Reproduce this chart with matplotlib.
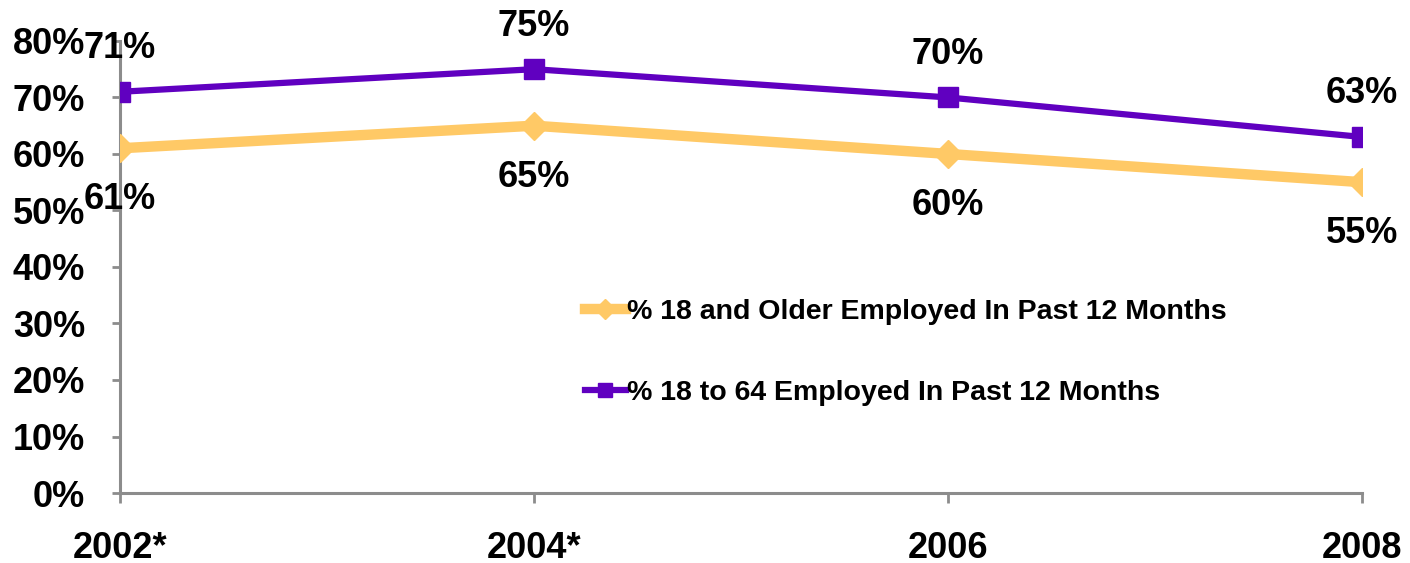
import numpy as np
import matplotlib
matplotlib.use('Agg')
import matplotlib.pyplot as plt
from matplotlib.ticker import PercentFormatter

plt.rcParams['font.family'] = ['Liberation Sans', 'DejaVu Sans']

years = ['2002*', '2004*', '2006', '2008']
older = [61, 65, 60, 55]
working_age = [71, 75, 70, 63]
older_label = '% 18 and Older Employed In Past 12 Months'
working_label = '% 18 to 64 Employed In Past 12 Months'

orange = '#FFC966'
purple = '#6000C0'
axis_gray = '#8C8C8C'

fig = plt.figure(figsize=(14.1, 5.63), dpi=100)
ax = fig.add_axes([0.0851, 0.1243, 0.881, 0.803])

x = np.arange(len(years))
ax.plot(x, older, color=orange, lw=7.5, marker='D', ms=14, mec=orange,
        label=older_label, zorder=3)
ax.plot(x, working_age, color=purple, lw=4.5, marker='s', ms=15, mec=purple,
        label=working_label, zorder=4)

for xi, v in zip(x, older):
    ax.annotate('%d%%' % v, (xi, v), xytext=(0, -37), textcoords='offset points',
                ha='center', va='center', fontsize=26, fontweight='bold')
for xi, v in zip(x, working_age):
    ax.annotate('%d%%' % v, (xi, v), xytext=(0, 31), textcoords='offset points',
                ha='center', va='center', fontsize=26, fontweight='bold')

ax.set_xlim(0, 3)
ax.set_ylim(0, 80)
ax.set_yticks(np.arange(0, 81, 10))
ax.yaxis.set_major_formatter(PercentFormatter(decimals=0))
ax.set_xticks(x)
ax.set_xticklabels(years)

for side in ['top', 'right']:
    ax.spines[side].set_visible(False)
for side in ['left', 'bottom']:
    ax.spines[side].set_color(axis_gray)
    ax.spines[side].set_linewidth(2.2)
ax.tick_params(axis='y', direction='out', length=6, width=2, color=axis_gray,
               pad=19, labelsize=26)
ax.tick_params(axis='x', direction='out', length=7, width=2, color=axis_gray,
               pad=20, labelsize=26)
for lab in ax.get_xticklabels() + ax.get_yticklabels():
    lab.set_fontweight('bold')

leg = ax.legend(loc='upper left', bbox_to_anchor=(0.374, 0.43), frameon=False,
                prop={'size': 20.5, 'weight': 'bold'}, handlelength=1.45,
                handletextpad=0.05, labelspacing=1.95, borderaxespad=0,
                borderpad=0)
for h in leg.legend_handles:
    h.set_markersize(10)

fig.savefig('out.png', dpi=100)
